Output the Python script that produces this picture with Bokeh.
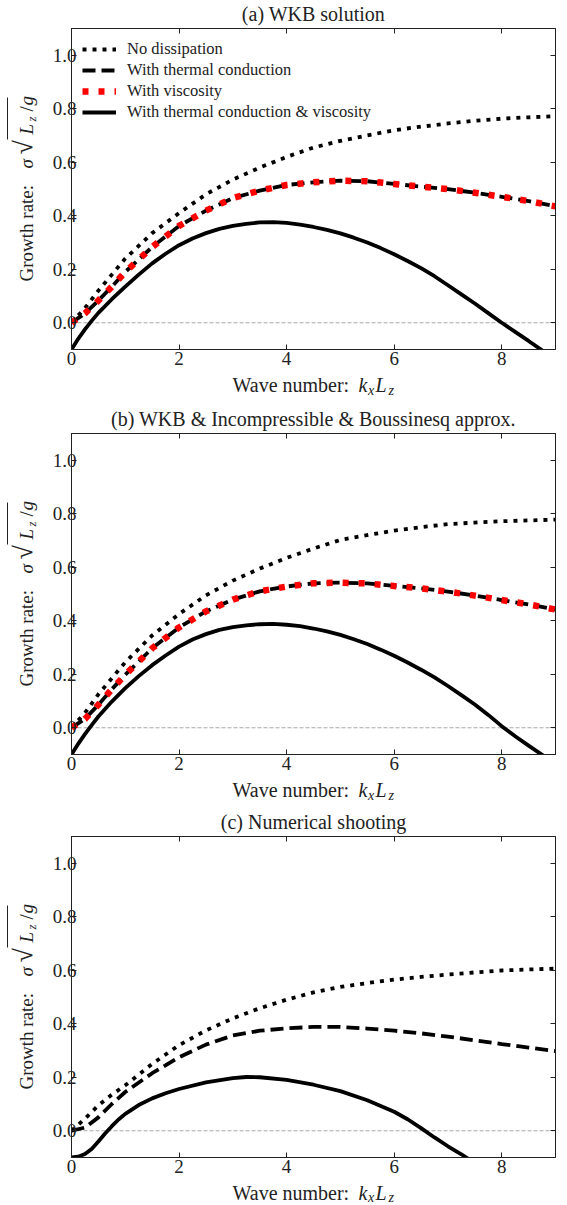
import math
from bokeh.plotting import figure
from bokeh.layouts import column, row
from bokeh.models import Range1d, FixedTicker, LinearAxis, Span, PrintfTickFormatter
from bokeh.core.properties import value
from bokeh.embed import file_html
from bokeh.resources import INLINE

# ---------------- data ----------------
titles = ["(a) WKB solution",
          "(b) WKB & Incompressible & Boussinesq approx.",
          "(c) Numerical shooting"]
series_names = ["No dissipation", "With thermal conduction",
                "With viscosity", "With thermal conduction & viscosity"]
x_ticks = [0, 2, 4, 6, 8]
y_ticks = [0.0, 0.2, 0.4, 0.6, 0.8, 1.0]

a_x = [0, 0.25, 0.5, 0.75, 1, 1.5, 2, 2.5, 3, 3.5, 4, 4.5, 5, 5.5, 6, 6.5, 7, 7.5, 8, 8.5, 9]
a_none = [0.0, 0.055, 0.12, 0.18, 0.24, 0.335, 0.41, 0.48, 0.535, 0.58, 0.62,
          0.655, 0.68, 0.70, 0.72, 0.733, 0.745, 0.755, 0.763, 0.768, 0.772]
a_cond = [0.0, 0.035, 0.083, 0.135, 0.19, 0.283, 0.362, 0.419, 0.466, 0.494, 0.515,
          0.525, 0.531, 0.529, 0.519, 0.509, 0.4995, 0.486, 0.471, 0.455, 0.435]
a_visc = [0.0, 0.035, 0.083, 0.135, 0.19, 0.283, 0.362, 0.419, 0.466, 0.494, 0.515,
          0.525, 0.531, 0.529, 0.519, 0.509, 0.4995, 0.486, 0.471, 0.455, 0.435]
a_both_x = [0, 0.125, 0.25, 0.375, 0.5, 0.75, 1, 1.25, 1.5, 1.75, 2, 2.25, 2.5, 2.75, 3,
            3.25, 3.5, 3.75, 4, 4.25, 4.5, 4.75, 5, 5.25, 5.5, 5.75, 6, 6.25, 6.5, 6.75,
            7, 7.25, 7.5, 7.75, 8, 8.25, 8.5, 8.8]
a_both = [-0.1, -0.06, -0.025, 0.007, 0.037, 0.088, 0.135, 0.18, 0.222, 0.258, 0.29,
          0.315, 0.335, 0.351, 0.362, 0.37, 0.375, 0.376, 0.373, 0.367, 0.358, 0.347,
          0.334, 0.318, 0.30, 0.279, 0.256, 0.231, 0.204, 0.174, 0.14, 0.106, 0.072,
          0.036, 0.0, -0.034, -0.068, -0.11]

b_x = [0, 0.25, 0.5, 0.75, 1, 1.5, 2, 2.5, 3, 3.5, 4, 4.5, 5, 5.5, 6, 6.5, 7, 7.5, 8, 8.5, 9]
b_none = [0.0, 0.055, 0.125, 0.185, 0.245, 0.345, 0.425, 0.495, 0.55, 0.595, 0.635,
          0.67, 0.702, 0.72, 0.737, 0.75, 0.761, 0.767, 0.772, 0.775, 0.778]
b_cond = [0.0, 0.033, 0.086, 0.144, 0.198, 0.297, 0.375, 0.435, 0.479, 0.51, 0.528,
          0.54, 0.5425, 0.5395, 0.53, 0.521, 0.509, 0.494, 0.4775, 0.461, 0.442]
b_visc = [0.0, 0.033, 0.086, 0.144, 0.198, 0.297, 0.375, 0.435, 0.479, 0.51, 0.528,
          0.54, 0.5425, 0.5395, 0.53, 0.521, 0.509, 0.494, 0.4775, 0.461, 0.442]
b_both_x = [0, 0.125, 0.25, 0.375, 0.5, 0.75, 1, 1.25, 1.5, 1.75, 2, 2.25, 2.5, 2.75, 3,
            3.25, 3.5, 3.75, 4, 4.25, 4.5, 4.75, 5, 5.25, 5.5, 5.75, 6, 6.25, 6.5, 6.75,
            7, 7.25, 7.5, 7.75, 8, 8.25, 8.5, 8.8]
b_both = [-0.1, -0.06, -0.024, 0.01, 0.042, 0.098, 0.148, 0.193, 0.234, 0.27, 0.303,
          0.33, 0.35, 0.366, 0.376, 0.383, 0.387, 0.388, 0.385, 0.38, 0.371, 0.36,
          0.347, 0.331, 0.313, 0.292, 0.269, 0.244, 0.217, 0.188, 0.156, 0.122, 0.087,
          0.048, 0.006, -0.032, -0.067, -0.108]

c_x = [0, 0.25, 0.5, 0.75, 1, 1.5, 2, 2.5, 3, 3.5, 4, 4.5, 5, 5.5, 6, 6.5, 7, 7.5, 8, 8.5, 9]
c_none = [0.0, 0.045, 0.095, 0.135, 0.17, 0.25, 0.32, 0.375, 0.42, 0.458, 0.49,
          0.517, 0.5375, 0.552, 0.565, 0.575, 0.584, 0.592, 0.599, 0.603, 0.606]
c_cond = [0.0, 0.012, 0.05, 0.1, 0.145, 0.215, 0.275, 0.322, 0.356, 0.374, 0.383,
          0.388, 0.388, 0.382, 0.374, 0.364, 0.352, 0.338, 0.324, 0.311, 0.298]
c_both_x = [0, 0.125, 0.25, 0.375, 0.5, 0.625, 0.75, 0.875, 1, 1.25, 1.5, 1.75, 2, 2.5,
            3, 3.25, 3.5, 4, 4.5, 5, 5.5, 6, 6.25, 6.5, 6.75, 7, 7.25, 7.4]
c_both = [-0.1, -0.097, -0.087, -0.068, -0.04, -0.01, 0.017, 0.042, 0.063, 0.096,
          0.121, 0.14, 0.156, 0.181, 0.197, 0.201, 0.2, 0.19, 0.172, 0.148, 0.114,
          0.071, 0.043, 0.01, -0.025, -0.058, -0.088, -0.108]

# ---------------- style / layout ----------------
FONT = "Liberation Serif"
INK = "#222222"
FULL_W = 559
YL_W = 38
MAIN_W = FULL_W - YL_W
MB_TOP, FRAME_H, MB_BOT = 2, 321, 24
MAIN_H = MB_TOP + FRAME_H + MB_BOT
FRAME_L = 71 - YL_W
FRAME_R_BORDER = 4
BASE_K = 0.34      # anchor-to-baseline correction (fraction of font size)


def text_fig(w, h, top=0, bottom=0):
    f = figure(width=w, height=h, x_range=Range1d(0, w), y_range=Range1d(0, h - top - bottom),
               output_backend="svg", toolbar_location=None, min_border=0,
               min_border_top=top, min_border_bottom=bottom,
               x_axis_type=None, y_axis_type=None)
    f.title.visible = False
    f.outline_line_color = None
    f.background_fill_color = "white"
    f.border_fill_color = "white"
    return f


def put(f, x, y, txt, size, style="normal", angle=0.0, align="left"):
    """(x, y) is the wanted baseline point of the text."""
    if angle == 0:
        y = y + BASE_K * size
    else:
        x = x - BASE_K * size
    f.text(x=[x], y=[y], text=[txt], angle=angle, text_font=value(FONT),
           text_font_size=value(f"{size}px"), text_font_style=style,
           text_color=INK, text_align=align, text_baseline="alphabetic")


def title_fig(title, h, baseline_from_top):
    f = text_fig(FULL_W, h)
    put(f, 313, h - baseline_from_top, title, 20, align="center")
    return f


def xlabel_fig(h, baseline_from_top, drop=3):
    f = text_fig(FULL_W, h)
    y = h - baseline_from_top
    x0 = 232
    put(f, x0, y, "Wave number:", 20)
    put(f, x0 + 126, y, "k", 20, "italic")
    put(f, x0 + 135.5, y - drop, "x", 14, "italic")
    put(f, x0 + 143, y, "L", 20, "italic")
    put(f, x0 + 156, y - drop, "z", 14, "italic")
    return f


def ylabel_fig():
    f = text_fig(YL_W, MAIN_H, top=MB_TOP, bottom=MB_BOT)
    base_x = 32
    y0 = FRAME_H / 2 - 92.5
    a = math.pi / 2
    put(f, base_x, y0, "Growth rate:", 19, angle=a)
    put(f, base_x, y0 + 113, "σ", 19, "italic", angle=a)
    put(f, base_x, y0 + 127, "√", 26, angle=a)
    f.line(x=[base_x - 25, base_x - 25], y=[y0 + 142, y0 + 184], line_color=INK,
           line_width=1)
    put(f, base_x, y0 + 147, "L", 19, "italic", angle=a)
    put(f, base_x + 3, y0 + 160, "z", 13, "italic", angle=a)
    put(f, base_x, y0 + 170, "/", 19, angle=a)
    put(f, base_x, y0 + 176, "g", 19, "italic", angle=a)
    return f


def mirror_axis(ticks):
    return LinearAxis(ticker=FixedTicker(ticks=ticks),
                      major_label_overrides={t: "" for t in ticks},
                      major_label_text_font_size="1px",
                      major_tick_in=5, major_tick_out=0, minor_tick_line_color=None,
                      major_label_standoff=0, axis_line_color=INK, major_tick_line_color=INK)


def main_fig():
    p = figure(width=MAIN_W, height=MAIN_H, x_range=Range1d(0, 9), y_range=Range1d(-0.1, 1.1),
               output_backend="svg", toolbar_location=None,
               min_border_left=FRAME_L, min_border_right=FRAME_R_BORDER,
               min_border_top=MB_TOP, min_border_bottom=MB_BOT)
    p.title.visible = False
    p.xgrid.grid_line_color = None
    p.ygrid.grid_line_color = None
    p.outline_line_color = INK
    p.outline_line_width = 1
    p.background_fill_color = "white"
    p.border_fill_color = "white"

    for ax in p.xaxis:
        ax.ticker = FixedTicker(ticks=x_ticks)
        ax.major_label_standoff = 2
    for ax in p.yaxis:
        ax.ticker = FixedTicker(ticks=y_ticks)
        ax.formatter = PrintfTickFormatter(format="%.1f")
        ax.major_label_standoff = -5
    for ax in list(p.xaxis) + list(p.yaxis):
        ax.major_tick_in = 5
        ax.major_tick_out = 0
        ax.minor_tick_line_color = None
        ax.major_tick_line_color = INK
        ax.axis_line_color = INK
        ax.major_label_text_font = FONT
        ax.major_label_text_font_size = "19px"
        ax.major_label_text_color = INK

    p.add_layout(mirror_axis(x_ticks), "above")
    p.add_layout(mirror_axis(y_ticks), "right")
    p.add_layout(Span(location=0, dimension="width", line_color="#a8a8a8",
                      line_width=1, line_dash="4 2", level="underlay"))
    return p


def draw(p, xs, none, cond, visc, bx, both, legend):
    kw = lambda i: {"legend_label": series_names[i]} if legend else {}
    p.line(xs, none, line_color="black", line_width=3.8, line_dash="4 6", **kw(0))
    p.line(xs, cond, line_color="black", line_width=3.8, line_dash="13 6", **kw(1))
    if visc is not None:
        p.line(xs, visc, line_color="#ff0000", line_width=6.5, line_dash="6 10", **kw(2))
    p.line(bx, both, line_color="black", line_width=3.8, **kw(3))


def panel(title, xs, none, cond, visc, bx, both, legend, t_h, t_base, xl_h, xl_base, drop):
    p = main_fig()
    draw(p, xs, none, cond, visc, bx, both, legend)
    if legend:
        lg = p.legend[0]
        lg.location = "top_left"
        lg.label_text_font = FONT
        lg.label_text_font_size = "16.5px"
        lg.label_text_color = INK
        lg.glyph_width = 34
        lg.glyph_height = 16
        lg.label_height = 16
        lg.label_standoff = 11
        lg.spacing = 1
        lg.padding = 7
        lg.margin = 4
        lg.border_line_alpha = 0
        lg.background_fill_alpha = 0
    return column(title_fig(title, t_h, t_base), row(ylabel_fig(), p),
                  xlabel_fig(xl_h, xl_base, drop))


pa = panel(titles[0], a_x, a_none, a_cond, a_visc, a_both_x, a_both, True, 26, 20.7, 32, 18.5, 3)
pb = panel(titles[1], b_x, b_none, b_cond, b_visc, b_both_x, b_both, False, 26, 20.7, 32, 18.5, 3)
pc = panel(titles[2], c_x, c_none, c_cond, None, c_both_x, c_both, False, 24, 18.5, 24, 18, 2.5)

layout = column(pa, pb, pc)
open("out.html", "w").write(file_html(layout, INLINE))
